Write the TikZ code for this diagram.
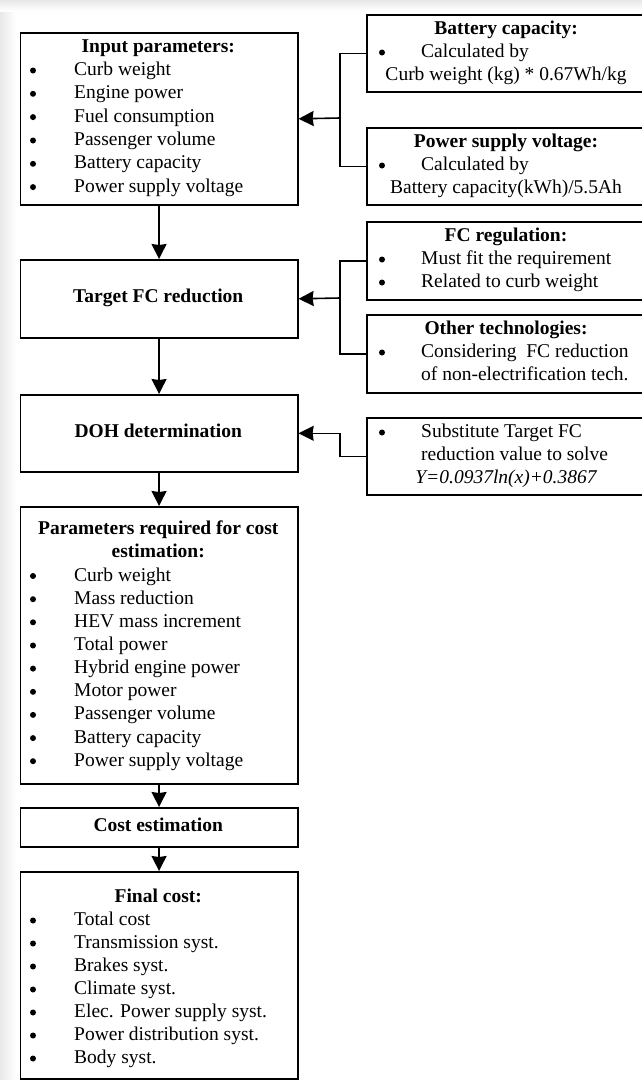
\documentclass[tikz,border=0pt]{standalone}
\usepackage{fontspec}
\setmainfont{Liberation Serif}
\usetikzlibrary{arrows.meta}
\newcommand\myitem[5]{%
  \node[dot] (#1b) at (#2,#4-0.5) {};
  \node[txt,anchor=west] (#1) at (#3,#4) {#5};}
\begin{document}
\begin{tikzpicture}[x=1pt,y=-1pt,
  box/.style={draw, line width=1.6pt, inner sep=0, anchor=north west},
  txt/.style={inner sep=0, text height=13pt, text depth=4pt, font=\fontsize{19.5}{23}\selectfont},
  ttl/.style={txt, font=\fontsize{19.5}{23}\selectfont\bfseries},
  dot/.style={circle, fill, inner sep=0, minimum size=6pt},
  conn/.style={line width=1.6pt},
  arr/.style={conn, -{Stealth[length=15pt,width=15pt,inset=1pt]}},
]
\useasboundingbox (0,0) rectangle (642,1080);
\clip (0,0) rectangle (642,1080);
\fill[white] (0,0) rectangle (642,1080);
\shade[left color=gray!18, right color=white] (0,0) rectangle (16,1080);
\shade[top color=gray!18, bottom color=white] (0,0) rectangle (642,11);

% left column boxes
\node[box, minimum width=277.5pt, minimum height=172pt] (inp) at (19.5,32) {};
\node[box, minimum width=277.5pt, minimum height=78pt] (tfc) at (19.5,259) {};
\node[box, minimum width=277.5pt, minimum height=77pt] (doh) at (19.5,394) {};
\node[box, minimum width=277.5pt, minimum height=277pt] (par) at (19.5,506) {};
\node[box, minimum width=277.5pt, minimum height=39pt] (cost) at (19.5,807) {};
\node[box, minimum width=277.5pt, minimum height=207pt] (fin) at (19.5,871) {};

% right column boxes
\node[box, minimum width=280pt, minimum height=77pt] (bc) at (366,14) {};
\node[box, minimum width=280pt, minimum height=77pt] (psv) at (366,127) {};
\node[box, minimum width=280pt, minimum height=78pt] (fcr) at (366,221) {};
\node[box, minimum width=280pt, minimum height=78pt] (oth) at (366,314) {};
\node[box, minimum width=280pt, minimum height=77pt] (sub) at (366,417) {};

% connectors
\coordinate (j1) at (340,118);
\coordinate (j2) at (340,298);
\draw[conn] (bc.west) -- ++(-26,0) |- (psv.west);
\draw[arr] (j1) -- (inp.east);
\draw[conn] (fcr.west) -- ++(-26,0) |- (oth.west);
\draw[arr] (j2) -- (tfc.east);
\draw[arr] (sub.west) -- ++(-26,0) |- (doh.east);
\draw[arr] (inp.south) -- (tfc.north);
\draw[arr] (tfc.south) -- (doh.north);
\draw[arr] (doh.south) -- (par.north);
\draw[arr] (par.south) -- (cost.north);
\draw[arr] (cost.south) -- (fin.north);

% input parameters
\node[ttl] (inpt) at (158.25,48) {Input parameters:};
\myitem{i1}{33}{74}{71}{Curb weight}
\myitem{i2}{33}{74}{94.3}{Engine power}
\myitem{i3}{33}{74}{117.6}{Fuel consumption}
\myitem{i4}{33}{74}{141}{Passenger volume}
\myitem{i5}{33}{74}{164.3}{Battery capacity}
\myitem{i6}{33}{74}{187.6}{Power supply voltage}

\node[ttl] (tfct) at (158.25,298) {Target FC reduction};
\node[ttl] (doht) at (158.25,433) {DOH determination};

% parameters required
\node[ttl] (part1) at (158.25,530) {Parameters required for cost};
\node[ttl] (part2) at (158.25,553) {estimation:};
\myitem{p1}{33}{74}{576.5}{Curb weight}
\myitem{p2}{33}{74}{599.7}{Mass reduction}
\myitem{p3}{33}{74}{622.8}{HEV mass increment}
\myitem{p4}{33}{74}{646}{Total power}
\myitem{p5}{33}{74}{669.1}{Hybrid engine power}
\myitem{p6}{33}{74}{692.3}{Motor power}
\myitem{p7}{33}{74}{715.4}{Passenger volume}
\myitem{p8}{33}{74}{738.6}{Battery capacity}
\myitem{p9}{33}{74}{761.7}{Power supply voltage}

\node[ttl] (costt) at (158.25,826.5) {Cost estimation};

% final cost
\node[ttl] (fint) at (158.25,898) {Final cost:};
\myitem{f1}{33}{74}{921}{Total cost}
\myitem{f2}{33}{74}{944}{Transmission syst.}
\myitem{f3}{33}{74}{967}{Brakes syst.}
\myitem{f4}{33}{74}{990}{Climate syst.}
\myitem{f5}{33}{74}{1013}{Elec. Power supply syst.}
\myitem{f6}{33}{74}{1036}{Power distribution syst.}
\myitem{f7}{33}{74}{1059}{Body syst.}

% right boxes
\node[ttl] (bct) at (506,30) {Battery capacity:};
\myitem{b1}{382}{421}{53}{Calculated by}
\node[txt] (b2) at (506,76) {Curb weight (kg) * 0.67Wh/kg};

\node[ttl] (psvt) at (506,143) {Power supply voltage:};
\myitem{v1}{382}{421}{166}{Calculated by}
\node[txt] (v2) at (506,189) {Battery capacity(kWh)/5.5Ah};

\node[ttl] (fcrt) at (506,237) {FC regulation:};
\myitem{r1}{382}{421}{260}{Must fit the requirement}
\myitem{r2}{382}{421}{283}{Related to curb weight}

\node[ttl] (otht) at (506,330) {Other technologies:};
\myitem{o1}{382}{421}{353}{Considering\ \ FC reduction}
\node[txt,anchor=west] (o2) at (421,376) {of non-electrification tech.};

\myitem{s1}{382}{421}{433}{Substitute Target FC}
\node[txt,anchor=west] (s2) at (421,456) {reduction value to solve};
\node[txt] (s3) at (506,479) {\itshape Y=0.0937ln(x)+0.3867};
\end{tikzpicture}
\end{document}
